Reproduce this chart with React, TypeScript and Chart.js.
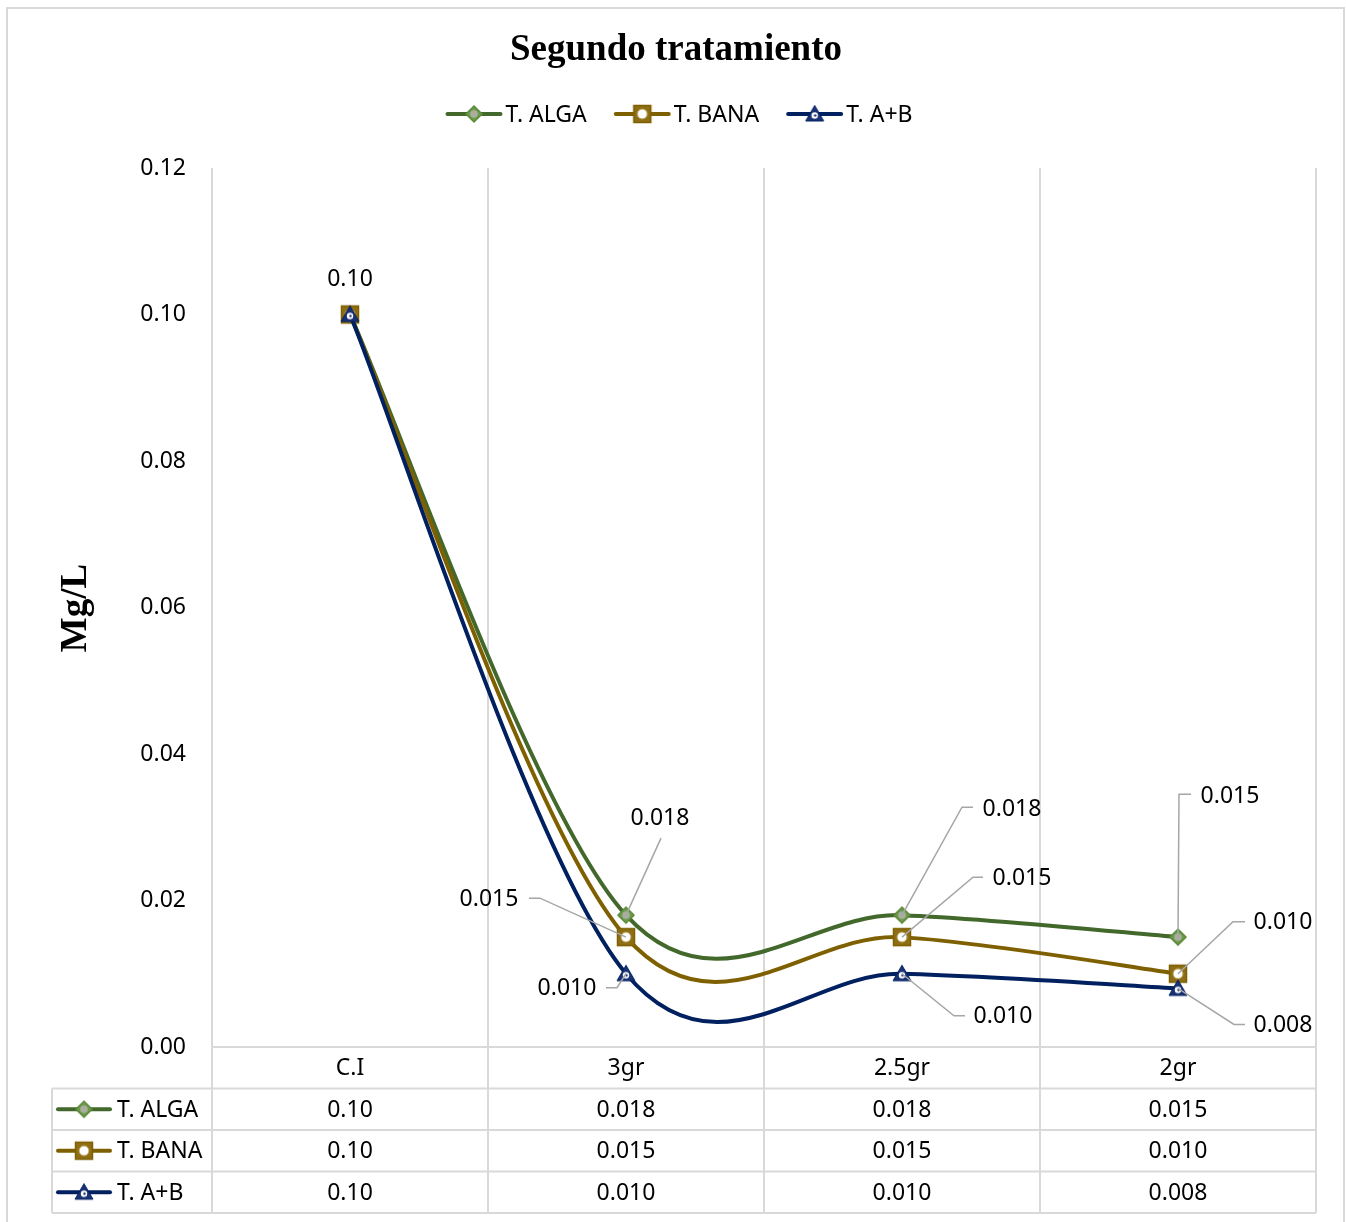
import { useEffect, useRef } from 'react';
import { Chart, registerables } from 'chart.js';

Chart.register(...registerables);

// ---------- data ----------
const chartTitle = 'Segundo tratamiento';
const yAxisTitle = 'Mg/L';
const categories = ['C.I', '3gr', '2.5gr', '2gr'];
const seriesNames = ['T. ALGA', 'T. BANA', 'T. A+B'];
const algaValues = [0.1, 0.018, 0.018, 0.015];
const banaValues = [0.1, 0.015, 0.015, 0.01];
const abValues = [0.1, 0.01, 0.01, 0.008];
const yMin = 0;
const yMax = 0.12;
const yStep = 0.02;

// ---------- styles ----------
const seriesColors = ['#43682b', '#7f6000', '#002060'];
const FONT = '"Noto Sans", sans-serif';
const SERIF = '"Liberation Serif", "DejaVu Serif", serif';
const GRID = '#d9d9d9';

type LabelPos = { tx: number; ty: number; ex?: number; ey?: number; sx?: number } | null;
// data label placement relative to each point (text centre, leader elbow, leader stub end)
const algaLabelPos: LabelPos[] = [
  { tx: 0, ty: -35 },
  { tx: 34, ty: -97, ex: 35, ey: -77, sx: 35 },
  { tx: 110, ty: -106, ex: 60, ey: -108, sx: 71 },
  { tx: 52, ty: -141, ex: 1, ey: -143, sx: 13 },
];
const banaLabelPos: LabelPos[] = [
  null,
  { tx: -137, ty: -38, ex: -86, ey: -39, sx: -97 },
  { tx: 120, ty: -59, ex: 71, ey: -60, sx: 81 },
  { tx: 105, ty: -51, ex: 55, ey: -52, sx: 67 },
];
const abLabelPos: LabelPos[] = [
  null,
  { tx: -59, ty: 15, ex: -9, ey: 14, sx: -20 },
  { tx: 101, ty: 43, ex: 52, ey: 42, sx: 63 },
  { tx: 105, ty: 37, ex: 56, ey: 36, sx: 67 },
];

const fmt = (v: number) => (v >= 0.1 ? v.toFixed(2) : v.toFixed(3));

function makeMarker(kind: 'diamond' | 'square' | 'triangle'): HTMLCanvasElement {
  const c = document.createElement('canvas');
  c.width = 24;
  c.height = 24;
  const g = c.getContext('2d')!;
  const cx = 12, cy = 12;
  if (kind === 'diamond') {
    g.beginPath();
    g.moveTo(cx, cy - 8);
    g.lineTo(cx + 8, cy);
    g.lineTo(cx, cy + 8);
    g.lineTo(cx - 8, cy);
    g.closePath();
    g.fillStyle = '#6e9a4b';
    g.fill();
    g.strokeStyle = '#5b8a3b';
    g.lineWidth = 1.5;
    g.stroke();
    g.beginPath();
    g.arc(cx, cy, 3.8, 0, Math.PI * 2);
    g.fillStyle = '#a9ae9f';
    g.fill();
  } else if (kind === 'square') {
    g.fillStyle = '#8d6e14';
    g.fillRect(cx - 8.5, cy - 8.5, 17, 17);
    g.strokeStyle = '#7f6000';
    g.lineWidth = 1.5;
    g.strokeRect(cx - 8.5, cy - 8.5, 17, 17);
    g.beginPath();
    g.arc(cx, cy, 5, 0, Math.PI * 2);
    g.fillStyle = '#ffffff';
    g.fill();
    g.strokeStyle = '#b89a50';
    g.lineWidth = 1;
    g.stroke();
  } else {
    g.beginPath();
    g.moveTo(cx, cy - 8.5);
    g.lineTo(cx + 9, cy + 7);
    g.lineTo(cx - 9, cy + 7);
    g.closePath();
    g.fillStyle = '#1a3275';
    g.fill();
    g.strokeStyle = '#002060';
    g.lineWidth = 1;
    g.stroke();
    g.beginPath();
    g.arc(cx, cy + 1.5, 3.2, 0, Math.PI * 2);
    g.fillStyle = '#ffffff';
    g.fill();
    g.beginPath();
    g.arc(cx + 0.5, cy + 1.5, 1.2, 0, Math.PI * 2);
    g.fillStyle = '#1a3275';
    g.fill();
  }
  return c;
}

export default function App() {
  const ref = useRef<HTMLCanvasElement>(null);

  useEffect(() => {
    const markers = [makeMarker('diamond'), makeMarker('square'), makeMarker('triangle')];
    const allValues = [algaValues, banaValues, abValues];
    const allLabelPos = [algaLabelPos, banaLabelPos, abLabelPos];

    // Excel-like smoothing (Catmull-Rom control points)
    const excelSmooth = {
      id: 'excelSmooth',
      beforeDatasetDraw(chart: any, args: any) {
        const meta = args.meta;
        const line = meta.dataset;
        if (!line) return;
        line.updateControlPoints(chart.chartArea, 'x');
        const pts = meta.data;
        const n = pts.length;
        for (let i = 0; i < n; i++) {
          const p = pts[i];
          const prev = pts[Math.max(0, i - 1)];
          const next = pts[Math.min(n - 1, i + 1)];
          const dx = (next.x - prev.x) / 6;
          const dy = (next.y - prev.y) / 6;
          p.cp1x = p.x - dx;
          p.cp1y = p.y - dy;
          p.cp2x = p.x + dx;
          p.cp2y = p.y + dy;
        }
      },
    };

    const drawLegendSymbol = (ctx: CanvasRenderingContext2D, i: number, x0: number, x1: number, y: number) => {
      ctx.save();
      ctx.strokeStyle = seriesColors[i];
      ctx.lineWidth = 4;
      ctx.lineCap = 'round';
      ctx.beginPath();
      ctx.moveTo(x0, y);
      ctx.lineTo(x1, y);
      ctx.stroke();
      const m = markers[i];
      ctx.drawImage(m, (x0 + x1) / 2 - m.width / 2, y - m.height / 2);
      ctx.restore();
    };

    const decorations = {
      id: 'decorations',
      beforeDraw(chart: any) {
        const ctx: CanvasRenderingContext2D = chart.ctx;
        ctx.save();
        ctx.fillStyle = '#ffffff';
        ctx.fillRect(0, 0, chart.width, chart.height);
        ctx.strokeStyle = GRID;
        ctx.lineWidth = 2;
        ctx.strokeRect(7, 8, 1337, 1230);
        ctx.restore();
      },
      afterDatasetsDraw(chart: any) {
        const ctx: CanvasRenderingContext2D = chart.ctx;
        ctx.save();
        ctx.font = `23px ${FONT}`;
        ctx.textAlign = 'center';
        ctx.textBaseline = 'middle';
        allValues.forEach((vals, s) => {
          const meta = chart.getDatasetMeta(s);
          vals.forEach((v, i) => {
            const pos = allLabelPos[s][i];
            if (!pos) return;
            const pt = meta.data[i];
            if (pos.ex !== undefined) {
              ctx.strokeStyle = '#a6a6a6';
              ctx.lineWidth = 1.5;
              ctx.beginPath();
              ctx.moveTo(pt.x, pt.y);
              ctx.lineTo(pt.x + pos.ex, pt.y + (pos.ey as number));
              ctx.lineTo(pt.x + (pos.sx as number), pt.y + (pos.ey as number));
              ctx.stroke();
            }
            ctx.fillStyle = '#000000';
            ctx.fillText(fmt(v), pt.x + pos.tx, pt.y + pos.ty);
          });
        });
        ctx.restore();
      },
      afterDraw(chart: any) {
        const ctx: CanvasRenderingContext2D = chart.ctx;
        const area = chart.chartArea;
        const xs = chart.scales.x;
        ctx.save();

        // title
        ctx.fillStyle = '#000';
        ctx.font = `bold 37px ${SERIF}`;
        ctx.textAlign = 'center';
        ctx.textBaseline = 'middle';
        ctx.fillText(chartTitle, 676, 50);

        // y axis title
        ctx.save();
        ctx.translate(76, 608);
        ctx.rotate(-Math.PI / 2);
        ctx.font = `bold 37px ${SERIF}`;
        ctx.fillText(yAxisTitle, 0, 0);
        ctx.restore();

        // legend
        ctx.font = `23px ${FONT}`;
        ctx.textAlign = 'left';
        const lineLen = 53, gap = 5, spacing = 29;
        const widths = seriesNames.map((n) => lineLen + gap + ctx.measureText(n).width);
        const total = widths.reduce((a, b) => a + b, 0) + spacing * (seriesNames.length - 1);
        let lx = 680 - total / 2;
        const ly = 114;
        seriesNames.forEach((n, i) => {
          drawLegendSymbol(ctx, i, lx, lx + lineLen, ly);
          ctx.fillStyle = '#000';
          ctx.fillText(n, lx + lineLen + gap, ly + 1);
          lx += widths[i] + spacing;
        });

        // data table
        const top = area.bottom;
        const rowH = 41.5;
        const rows = 4;
        const bottom = top + rowH * rows;
        const tableLeft = 52;
        const bandW = (area.right - area.left) / categories.length;
        ctx.strokeStyle = GRID;
        ctx.lineWidth = 2;
        ctx.beginPath();
        ctx.moveTo(area.left, top);
        ctx.lineTo(area.right, top);
        for (let r = 1; r <= rows; r++) {
          ctx.moveTo(tableLeft, top + rowH * r);
          ctx.lineTo(area.right, top + rowH * r);
        }
        ctx.moveTo(tableLeft, top + rowH);
        ctx.lineTo(tableLeft, bottom);
        for (let c = 0; c <= categories.length; c++) {
          const x = area.left + bandW * c;
          ctx.moveTo(x, top);
          ctx.lineTo(x, bottom);
        }
        ctx.stroke();

        ctx.fillStyle = '#000';
        ctx.textAlign = 'center';
        ctx.textBaseline = 'middle';
        categories.forEach((c, i) => {
          ctx.fillText(c, xs.getPixelForValue(i), top + rowH / 2 + 1);
        });
        allValues.forEach((vals, s) => {
          const cy = top + rowH * (s + 1) + rowH / 2 + 1;
          vals.forEach((v, i) => {
            ctx.fillText(fmt(v), xs.getPixelForValue(i), cy);
          });
          drawLegendSymbol(ctx, s, 58, 110, cy - 1);
          ctx.textAlign = 'left';
          ctx.fillText(seriesNames[s], 117, cy);
          ctx.textAlign = 'center';
        });

        ctx.restore();
      },
    };

    const makeDs = (label: string, data: number[], i: number, order: number) => ({
      label,
      data,
      borderColor: seriesColors[i],
      backgroundColor: seriesColors[i],
      borderWidth: 4,
      tension: 0.4,
      pointStyle: markers[i] as any,
      pointRadius: 8,
      pointHoverRadius: 8,
      order,
    });

    const chart = new Chart(ref.current!, {
      type: 'line',
      data: {
        labels: categories,
        datasets: [
          makeDs(seriesNames[0], algaValues, 0, 2),
          makeDs(seriesNames[1], banaValues, 1, 1),
          makeDs(seriesNames[2], abValues, 2, 0),
        ],
      },
      options: {
        responsive: false,
        devicePixelRatio: 1,
        animation: false,
        events: [],
        layout: { padding: { top: 168, right: 30, bottom: 0, left: 0 } },
        plugins: {
          legend: { display: false },
          title: { display: false },
          tooltip: { enabled: false },
        },
        scales: {
          x: {
            type: 'category',
            offset: true,
            grid: { offset: true, color: GRID, lineWidth: 2, drawTicks: false },
            border: { display: true, color: GRID, width: 2 },
            ticks: { display: false },
            afterFit: (s: any) => {
              s.height = 175;
            },
          },
          y: {
            min: yMin,
            max: yMax,
            grid: { display: false, drawTicks: false },
            border: { display: false },
            ticks: {
              stepSize: yStep,
              padding: 26,
              color: '#000',
              font: { family: FONT, size: 23 },
              callback: (v: any) => Number(v).toFixed(2),
            },
            afterFit: (s: any) => {
              s.width = 212;
            },
          },
        },
      },
      plugins: [excelSmooth, decorations],
    } as any);
    return () => chart.destroy();
  }, []);

  return (
    <div style={{ position: 'absolute', left: 0, top: 0, width: 1346, height: 1222 }}>
      <canvas ref={ref} width={1346} height={1222} style={{ display: 'block', width: 1346, height: 1222 }} />
    </div>
  );
}
